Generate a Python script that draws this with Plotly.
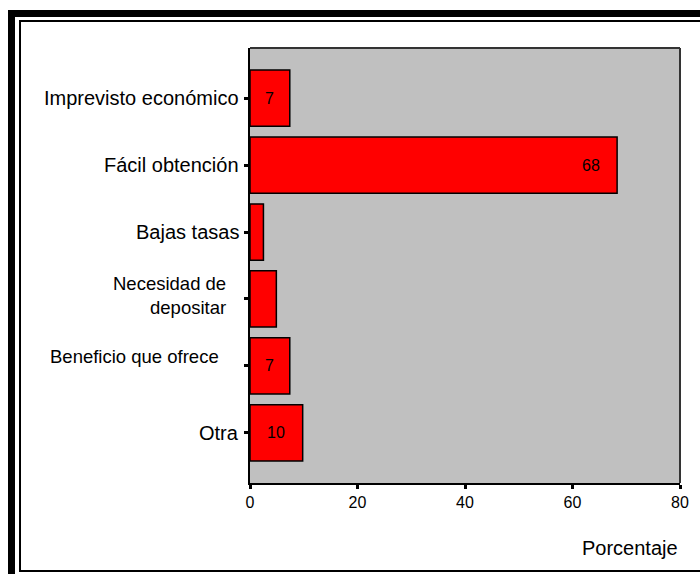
import plotly.graph_objects as go

# ---- data ----
categories = ["Imprevisto económico", "Fácil obtención", "Bajas tasas",
              "Necesidad de depositar", "Beneficio que ofrece", "Otra"]
display_labels = ["Imprevisto económico", "Fácil obtención", "Bajas tasas",
                  "Necesidad de<br>depositar", "Beneficio que ofrece", "Otra"]
percentages = [7.4, 68.3, 2.5, 4.9, 7.4, 9.8]
value_labels = ["7", "68", "", "", "7", "10"]
x_ticks = [0, 20, 40, 60, 80]
x_title = "Porcentaje"

# ---- layout geometry (pixels) ----
W, H = 700, 574
L, R, T, B = 250, 20, 48, 91
PW, PH = W - L - R, H - T - B


def xp(px):
    return (px - L) / PW


def yp(py):
    return (H - B - py) / PH


FONT = "Liberation Sans, Arial, sans-serif"

fig = go.Figure()
fig.add_trace(go.Bar(
    y=categories, x=percentages, orientation="h",
    marker=dict(color="#FF0000", line=dict(color="black", width=1.5)),
    width=0.84, hoverinfo="x+y",
))

annotations = []
# category labels (right edge px, y shift px, font size)
label_style = [(241, 0, 20), (241, 0, 20), (241, 0, 20),
               (228, 3, 18.5), (221, 9, 18.5), (241, 0, 20)]
for cat, lab, (rx, ys, fs) in zip(categories, display_labels, label_style):
    annotations.append(dict(
        x=xp(rx), xref="paper", y=cat, yref="y", text=lab,
        xanchor="right", yanchor="middle", align="right", showarrow=False,
        yshift=ys, font=dict(family=FONT, size=fs, color="black")))

# value labels inside bars
for cat, v, t in zip(categories, percentages, value_labels):
    if not t:
        continue
    xpos = v / 2 if v < 15 else v - 4.9
    annotations.append(dict(
        x=xpos, xref="x", y=cat, yref="y", text=t, showarrow=False,
        xanchor="center", yanchor="middle",
        font=dict(family=FONT, size=16, color="black")))

annotations.append(dict(
    x=xp(680), xref="paper", y=yp(548), yref="paper", text=x_title,
    xanchor="right", yanchor="middle", showarrow=False,
    font=dict(family=FONT, size=20, color="black")))

shapes = [
    # outer thick frame
    dict(type="rect", xref="paper", yref="paper",
         x0=xp(11.5), x1=xp(760), y0=yp(13.5), y1=yp(640),
         line=dict(color="black", width=7), layer="above"),
    # inner thin frame
    dict(type="rect", xref="paper", yref="paper",
         x0=xp(20), x1=xp(760), y0=yp(21), y1=yp(571),
         line=dict(color="black", width=2), layer="above"),
    # plot area top/right border
    dict(type="line", xref="paper", yref="paper", x0=0, x1=1, y0=1, y1=1,
         line=dict(color="#333333", width=2), layer="above"),
    dict(type="line", xref="paper", yref="paper", x0=1, x1=1, y0=0, y1=1,
         line=dict(color="#333333", width=2), layer="above"),
]

fig.update_layout(
    width=W, height=H,
    margin=dict(l=L, r=R, t=T, b=B, pad=0),
    paper_bgcolor="white", plot_bgcolor="#C0C0C0",
    showlegend=False, bargap=0.16,
    font=dict(family=FONT, color="black"),
    annotations=annotations, shapes=shapes,
    xaxis=dict(range=[0, 80], tickvals=x_ticks, ticks="outside", ticklen=4,
               tickwidth=3, tickcolor="black", showgrid=False, zeroline=False,
               showline=True, linecolor="black", linewidth=2,
               tickfont=dict(family=FONT, size=16, color="black")),
    yaxis=dict(type="category", categoryorder="array", categoryarray=categories,
               range=[len(categories) - 0.25, -0.75], ticks="outside",
               ticklen=4, tickwidth=3, tickcolor="black", showticklabels=False,
               showgrid=False, zeroline=False, showline=True,
               linecolor="black", linewidth=2),
)

fig.write_html(
    "out.html",
    config={"displayModeBar": False},
    post_script="document.body.style.margin='0px';document.body.style.overflow='hidden';",
)
